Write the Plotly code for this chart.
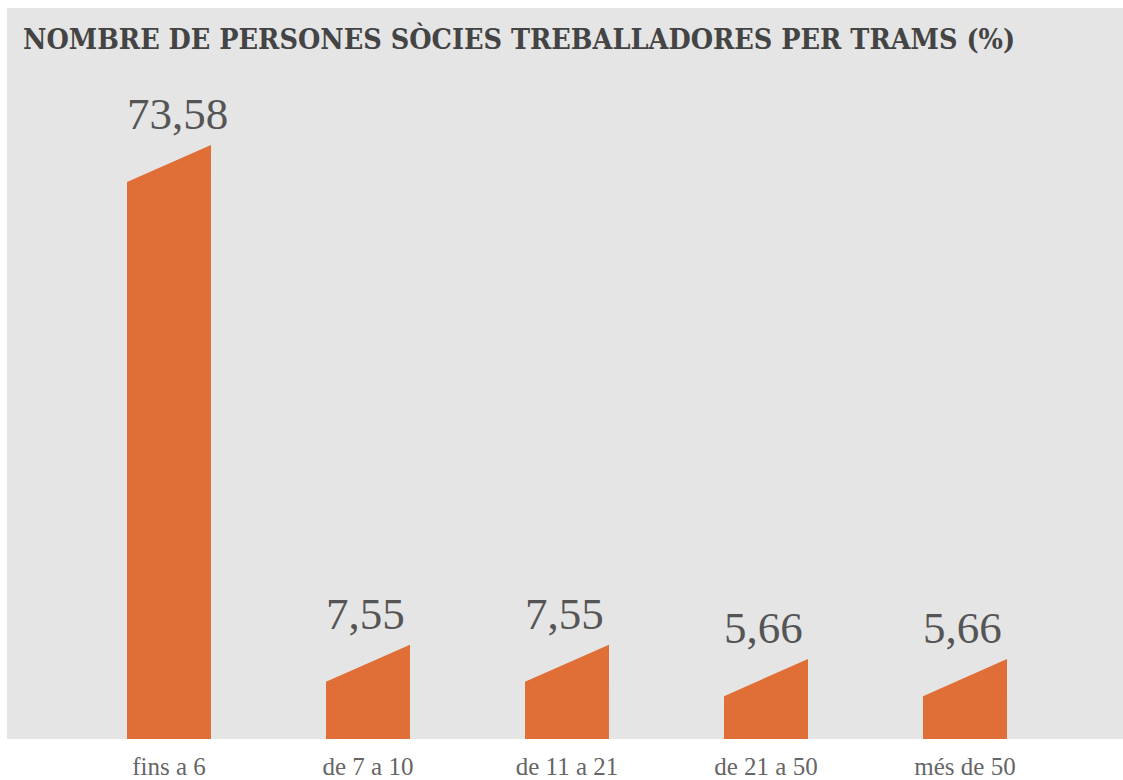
import plotly.graph_objects as go

categories = ["fins a 6", "de 7 a 10", "de 11 a 21", "de 21 a 50", "més de 50"]
values = [73.58, 7.55, 7.55, 5.66, 5.66]
value_labels = ["73,58", "7,55", "7,55", "5,66", "5,66"]
title_text = "NOMBRE DE PERSONES SÒCIES TREBALLADORES PER TRAMS (%)"

BAR_COLOR = "#e06e37"
BG = "#e5e5e5"
HALF_W = 0.211
SLANT = 4.9  # extra height of the right edge (in axis units)

fig = go.Figure()
for i, (cat, v) in enumerate(zip(categories, values)):
    xs = [i - HALF_W, i - HALF_W, i + HALF_W, i + HALF_W, i - HALF_W]
    ys = [0, v, v + SLANT, 0, 0]
    fig.add_trace(go.Scatter(
        x=xs, y=ys, mode="lines", fill="toself",
        fillcolor=BAR_COLOR, line=dict(width=0, color=BAR_COLOR),
        hoverinfo="skip", showlegend=False,
    ))
    fig.add_annotation(
        x=i - HALF_W, y=v + SLANT, xref="x", yref="y",
        text=value_labels[i], showarrow=False,
        xanchor="left", yanchor="bottom", yshift=4, xshift=-2,
        font=dict(family="Liberation Serif", size=45, color="#555555"),
    )

fig.add_annotation(
    x=0.0149, y=1.0, xref="paper", yref="paper",
    text="<b>" + title_text + "</b>", showarrow=False,
    xanchor="left", yanchor="top", yshift=-12, xshift=-3,
    font=dict(family="DejaVu Serif Condensed", size=28.5, color="#444444"),
)

fig.update_layout(
    width=1123, height=780,
    margin=dict(l=7, r=0, t=8, b=41),
    paper_bgcolor="white", plot_bgcolor=BG,
    xaxis=dict(
        range=[-0.814, 4.794], tickvals=list(range(len(categories))),
        ticktext=categories, showgrid=False, zeroline=False, showline=False,
        ticks="", ticklabelstandoff=10,
        tickfont=dict(family="Liberation Serif", size=25, color="#666666"),
        fixedrange=True,
    ),
    yaxis=dict(range=[0, 96.57], visible=False, showgrid=False, zeroline=False, fixedrange=True),
)

fig.write_html(
    "out.html",
    config={"displayModeBar": False},
    post_script="document.body.style.margin='0px';document.body.style.overflow='hidden';",
)
